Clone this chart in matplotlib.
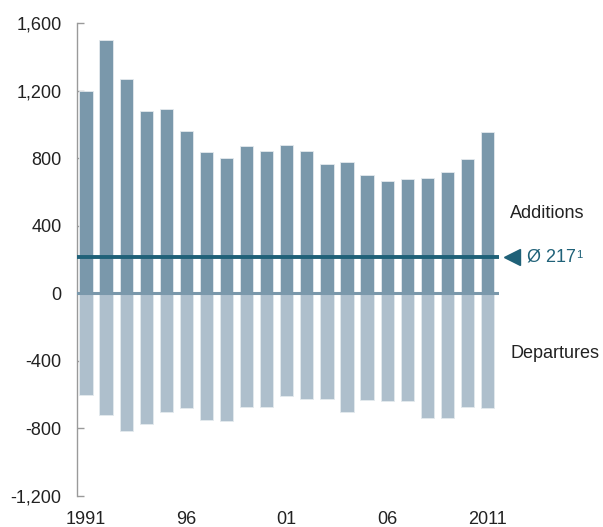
import matplotlib
matplotlib.use("Agg")
import matplotlib.pyplot as plt
import numpy as np

plt.rcParams['font.family'] = ['Liberation Sans', 'DejaVu Sans']

years = list(range(1991, 2012))
additions = [1200, 1500, 1270, 1078, 1090, 960, 834, 800, 871, 841, 877, 841,
             766, 780, 703, 662, 676, 681, 717, 794, 952]
departures = [-600, -723, -814, -771, -703, -681, -751, -757, -675, -675, -606, -626,
              -626, -703, -632, -638, -638, -739, -739, -675, -681]
average = 217
yticks = [-1200, -800, -400, 0, 400, 800, 1200, 1600]
ytick_labels = ['-1,200', '-800', '-400', '0', '400', '800', '1,200', '1,600']
xtick_years = [1991, 1996, 2001, 2006, 2011]
xtick_labels = ['1991', '96', '01', '06', '2011']

c_add = '#7a98ab'
c_dep = '#aebfcc'
c_avg = '#1f6178'
c_text = '#222222'
fs = 13

fig = plt.figure(figsize=(6.03, 5.27), dpi=100)
ax = fig.add_axes([77/603, 1-496/527, 422/603, (496-23)/527])

x = np.array(years)
ax.bar(x, additions, width=0.66, color=c_add, edgecolor='#e4eaee', linewidth=0.6, zorder=2)
ax.bar(x, departures, width=0.66, color=c_dep, edgecolor='#e4eaee', linewidth=0.6, zorder=2)
ax.axhline(0, color=c_add, linewidth=2.2, zorder=3)
ax.axhline(average, color=c_avg, linewidth=2.8, zorder=4)

ax.set_xlim(1991 - 0.45, 2011.57)
ax.set_ylim(-1200, 1600)

for s in ['top', 'right', 'bottom']:
    ax.spines[s].set_visible(False)
ax.spines['left'].set_color('#9a9a9a')
ax.spines['left'].set_linewidth(1.0)

ax.set_yticks(yticks)
ax.set_yticklabels(ytick_labels, fontsize=fs, color=c_text)
ax.tick_params(axis='y', direction='in', length=5, width=1.0, color='#9a9a9a', pad=11)
ax.set_xticks(xtick_years)
ax.set_xticklabels(xtick_labels, fontsize=fs, color=c_text)
ax.tick_params(axis='x', length=0, pad=11)

ax.text(2012.12, 470, 'Additions', fontsize=fs, color=c_text, va='center', ha='left')
ax.text(2012.12, -357, 'Departures', fontsize=fs, color=c_text, va='center', ha='left')
ax.plot([2012.2], [average], marker='<', markersize=11, color=c_avg, clip_on=False, zorder=5)
t = ax.text(2012.96, average, 'Ø 217', fontsize=fs, color=c_avg, va='center', ha='left')
ax.annotate('1', xy=(1, 1), xycoords=t, xytext=(0.5, -1), textcoords='offset points',
            fontsize=8, color=c_avg, va='top', ha='left')

fig.savefig('out.png', dpi=100)
